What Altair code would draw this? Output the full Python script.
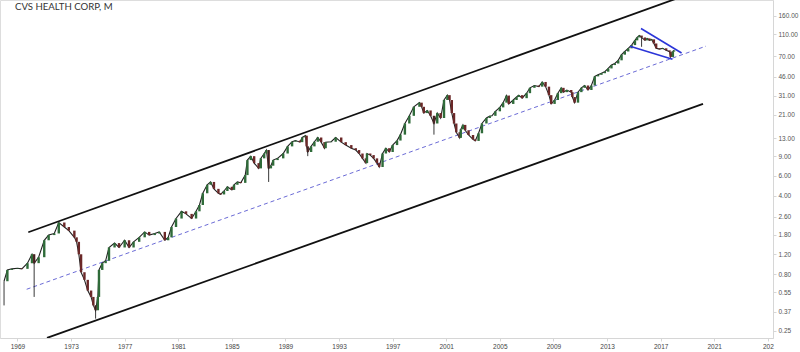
import altair as alt
import pandas as pd

title_text = "CVS HEALTH CORP, M"

dates = ["1968-01","1968-04","1968-08","1969-01","1969-05","1969-10","1970-02","1970-04","1970-08",
 "1971-01","1971-05","1971-10","1972-02","1972-07","1972-11","1973-04","1973-06","1973-08","1973-10",
 "1974-01","1974-04","1974-07","1974-09","1974-11","1975-01","1975-02","1975-05","1975-08","1975-11",
 "1976-04","1976-08","1977-01","1977-05","1977-09","1978-02","1978-07","1978-11","1979-04","1979-08",
 "1980-01","1980-04","1980-07","1980-11","1981-04","1981-08","1982-01","1982-05","1982-08","1982-11",
 "1983-03","1983-06","1983-09","1984-01","1984-03","1984-06","1984-09","1985-01","1985-03","1985-06",
 "1985-09","1986-01","1986-03","1986-06","1986-09","1987-01","1987-03","1987-06","1987-08","1987-10",
 "1987-12","1988-02","1988-06","1988-11","1989-03","1989-07","1989-10","1990-02","1990-04","1990-07",
 "1990-08","1990-09","1990-12","1991-03","1991-06","1991-09","1991-12","1992-01","1992-06","1992-10",
 "1993-03","1993-07","1993-12","1994-04","1994-07","1994-10","1995-01","1995-02","1995-05","1995-08",
 "1995-11","1996-01","1996-04","1996-07","1996-10","1997-01","1997-05","1997-08","1997-12","1998-04",
 "1998-08","1999-01","1999-03","1999-05","1999-08","1999-11","2000-02","2000-05","2000-08","2000-11",
 "2001-02","2001-04","2001-06","2001-08","2001-10","2002-01","2002-02","2002-04","2002-06","2002-09",
 "2003-01","2003-03","2003-06","2003-09","2004-01","2004-04","2004-06","2004-09","2005-01","2005-04",
 "2005-07","2005-09","2006-01","2006-04","2006-06","2006-09","2007-01","2007-04","2007-08","2007-12",
 "2008-03","2008-06","2008-09","2008-11","2009-02","2009-05","2009-08","2009-10","2010-01","2010-05",
 "2010-06","2010-08","2010-11","2011-02","2011-05","2011-08","2011-11","2012-02","2012-05","2012-08",
 "2012-11","2013-02","2013-05","2013-08","2013-11","2014-02","2014-05","2014-08","2014-11","2015-02",
 "2015-04","2015-06","2015-08","2015-11","2016-01","2016-03","2016-05","2016-07","2016-09","2016-12",
 "2017-03","2017-06","2017-09","2017-10","2017-12","2018-01"]

closes = [0.69,0.87,0.89,0.90,0.89,1.0,1.2,1.0,1.13,
 1.6,1.78,1.84,2.3,2.1,1.95,1.7,1.55,1.2,0.83,
 0.71,0.57,0.5,0.42,0.38,0.5,0.87,1.0,1.05,1.38,
 1.51,1.38,1.6,1.38,1.55,1.7,1.9,1.78,1.84,1.9,
 1.6,1.7,2.1,2.5,2.9,2.75,2.5,2.9,3.3,4.2,
 5.0,5.3,4.6,4.2,4.1,4.4,4.8,4.5,5.0,5.3,
 5.2,6.1,8.3,9.0,7.8,7.0,8.6,9.5,10.2,7.0,
 7.4,8.3,8.6,9.5,11,12.1,12.4,12,13.2,13.7,
 11,9.8,11,12.1,13.2,12,10.6,12,12.1,13.2,
 12,11.3,10.6,10.2,9.5,8.6,7.8,9.5,9.2,8.6,
 7.8,7.2,9.5,10.6,9.8,11.3,12.4,14,17.6,20.6,
 24.8,27,24.8,21.8,23,20.6,17.6,21.8,19.7,28.5,
 31.5,28.5,21.8,17.6,14.7,13.1,15.6,17.1,15.3,13.9,
 12.7,12.3,14.4,17.6,19.7,20.5,20.6,22.6,24.5,27,
 31.2,26.3,28.5,30.3,31.5,29.6,32.8,36.6,38.4,37.5,
 41.3,37.5,31.5,26.3,28.5,32.8,36.6,33.5,35,33.5,
 30.3,27,33.5,36.6,38.4,35,38.4,46.3,47.8,49.4,
 51,54.5,58.4,60.3,64.4,72.3,77.2,82.4,88,97,
 103,107,103,97,101,97,99,91,82.4,81,
 82.4,79,77,69,77,79]

wick_dates = ["1968-01","1970-04","1974-11","1987-10","1990-09","2000-02","2015-08"]
wick_lows = [0.42,0.5,0.32,5.3,9.0,14,85]
wick_tops = [0.69,1.2,0.42,10.2,11,20.6,103]

# trend lines: (name, start date, start value, end date, end value)
line_names = ["upper","lower","mid","wedge_top","wedge_bottom"]
line_start_dates = ["1969-10-23","1971-03-17","1969-09-09","2015-07-16","2014-09-20"]
line_start_vals = [1.886,0.2155,0.585,123.8,86.1]
line_end_dates = ["2020-06-17","2020-03-01","2020-05-22","2018-07-26","2017-11-20"]
line_end_vals = [286.7,26.3,86.2,74.8,65.8]

y_ticks = [0.25,0.37,0.55,0.8,1.2,1.8,2.6,4,6,9,13,21,31,46,70,110,160]
x_years = list(range(1969, 2026, 4))

# ---------------------------------------------------------------
df = pd.DataFrame({"date": pd.to_datetime([d + "-01" for d in dates]), "close": closes})
df["open"] = df["close"].shift(1).fillna(df["close"].iloc[0])
df["dir"] = (df["close"] >= df["open"]).map({True: "up", False: "down"})
df["date"] = df["date"].dt.strftime("%Y-%m-%d")

wk = pd.DataFrame({"date": [d + "-01" for d in wick_dates], "low": wick_lows, "top": wick_tops})

rows = []
for n, sd, sv, ed, ev in zip(line_names, line_start_dates, line_start_vals, line_end_dates, line_end_vals):
    rows.append({"line": n, "date": sd, "value": sv})
    rows.append({"line": n, "date": ed, "value": ev})
ln = pd.DataFrame(rows)

x_dom = [alt.DateTime(year=1967, month=9, date=13), alt.DateTime(year=2025, month=5, date=22)]
y_dom = [0.2151, 222.2]
xs = alt.Scale(domain=x_dom, padding=0)
ys = alt.Scale(type="log", domain=y_dom, padding=0)

x_axis = alt.Axis(values=[alt.DateTime(year=y, month=1, date=1) for y in x_years],
                  labelExpr="year(datum.value) == 2025 ? '202' : timeFormat(datum.value, '%Y')",
                  grid=False, domainColor="#d6d6d6", tickColor="#d6d6d6", tickSize=3,
                  labelColor="#444", labelFontSize=6.5, labelFont="Liberation Sans",
                  labelPadding=2, title=None, labelFlush=False)
y_axis = alt.Axis(orient="right", values=y_ticks, format=".2f", grid=False,
                  domainColor="#d6d6d6", tickColor="#d6d6d6", tickSize=3,
                  labelColor="#555", labelFontSize=6.5, labelFont="Liberation Sans",
                  labelPadding=2, title=None)


def X(field):
    return alt.X(field, scale=xs, axis=x_axis)


def Y(field):
    return alt.Y(field, scale=ys, axis=y_axis)


base_line = alt.Chart(df).mark_line(color="#222222", strokeWidth=1.1, clip=True).encode(
    x=X("date:T"), y=Y("close:Q"),
)

wicks = alt.Chart(wk).mark_rule(color="#222", strokeWidth=0.9, clip=True).encode(
    x=X("date:T"), y=Y("low:Q"), y2="top:Q",
)

bodies = alt.Chart(df).mark_bar(size=2.4, clip=True).encode(
    x=X("date:T"), y=Y("open:Q"), y2="close:Q",
    color=alt.Color("dir:N", scale=alt.Scale(domain=["up", "down"], range=["#2f6b39", "#6b2828"]), legend=None),
)

channel = alt.Chart(ln).transform_filter(
    alt.FieldOneOfPredicate(field="line", oneOf=["upper", "lower"])
).mark_line(color="#111", strokeWidth=1.8, clip=True).encode(
    x=X("date:T"), y=Y("value:Q"), detail="line:N",
)

mid = alt.Chart(ln).transform_filter(
    alt.FieldEqualPredicate(field="line", equal="mid")
).mark_line(color="#6b6bd6", strokeWidth=1, strokeDash=[4, 3], clip=True).encode(
    x=X("date:T"), y=Y("value:Q"),
)

wedge = alt.Chart(ln).transform_filter(
    alt.FieldOneOfPredicate(field="line", oneOf=["wedge_top", "wedge_bottom"])
).mark_line(color="#2b35d8", strokeWidth=1.6, clip=True).encode(
    x=X("date:T"), y=Y("value:Q"), detail="line:N",
)

title = alt.Chart(pd.DataFrame({"t": [title_text]})).mark_text(
    align="left", baseline="alphabetic", fontSize=9.6, font="Lato", color="#333"
).encode(x=alt.value(15), y=alt.value(9.8), text="t:N")

chart = alt.layer(mid, channel, base_line, bodies, wicks, wedge, title).properties(
    width=773, height=338,
    padding={"left": 0, "top": 0, "right": 27, "bottom": 14},
    autosize="none",
).configure_view(stroke=None).configure(background="white")

chart.save("out.html", embed_options={"renderer": "svg", "actions": False})
